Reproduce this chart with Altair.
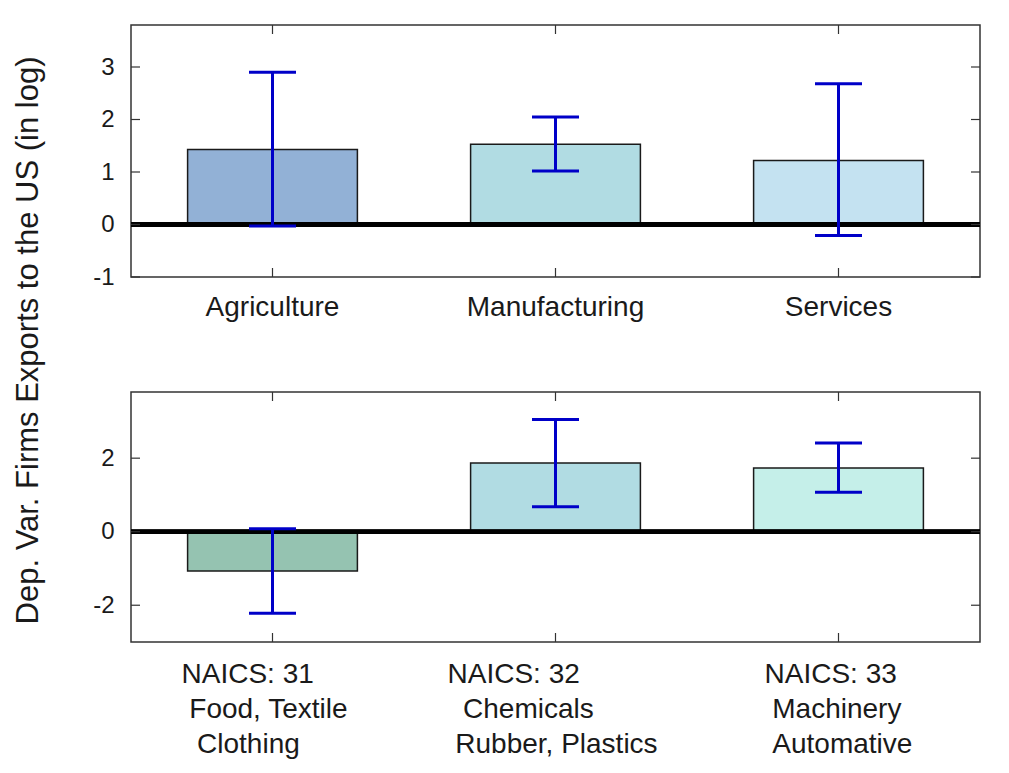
import altair as alt
import pandas as pd

# ---- data ----
top_cats = ["Agriculture", "Manufacturing", "Services"]
top_vals = [1.43, 1.53, 1.22]
top_lo = [-0.03, 1.02, -0.21]
top_hi = [2.90, 2.05, 2.68]
top_colors = ["#92b1d6", "#b1dce3", "#c4e2f1"]
top_ticks = [-1, 0, 1, 2, 3]
top_domain = [-1, 3.8]

ZW = "\u200b"
NB = "\u00a0"
bot_cats = [
    "NAICS: 31|" + ZW + NB + "Food, Textile|" + ZW + NB + NB + "Clothing",
    "NAICS: 32|" + ZW + NB + NB + "Chemicals|" + ZW + NB + "Rubber, Plastics",
    "NAICS: 33|" + ZW + NB + "Machinery|" + ZW + NB + "Automative",
]
bot_vals = [-1.07, 1.87, 1.73]
bot_lo = [-2.22, 0.68, 1.07]
bot_hi = [0.08, 3.05, 2.41]
bot_colors = ["#95c3b1", "#b1dce3", "#c5efe9"]
bot_ticks = [-2, 0, 2]
bot_domain = [-3, 3.8]

W = 849
ERR = "#0000c8"
FONT = "Liberation Sans"
TXT = "#1a1a1a"


def panel(cats, vals, lo, hi, colors, ticks, domain, height, xaxis, yaxis):
    df = pd.DataFrame({"cat": cats, "val": vals, "lo": lo, "hi": hi, "color": colors})
    tdf = pd.DataFrame({"val": ticks})
    xs = alt.Scale(paddingInner=0.4, paddingOuter=0.2)
    ys = alt.Scale(domain=domain, nice=False, zero=False)
    x = alt.X("cat:N", sort=cats, scale=xs, axis=xaxis)
    y = alt.Y("val:Q", scale=ys, axis=yaxis)

    base = alt.Chart(df)
    bars = base.mark_bar(stroke="#1a1a1a", strokeWidth=1.5, opacity=1).encode(
        x=x, y=y, y2=alt.datum(0), color=alt.Color("color:N", scale=None)
    )
    zero = alt.Chart(tdf).mark_rule(color="black", strokeWidth=4.5).encode(y=alt.datum(0))
    err = base.mark_rule(color=ERR, strokeWidth=3, opacity=1).encode(
        x=alt.X("cat:N", sort=cats), y=alt.Y("lo:Q"), y2="hi:Q"
    )
    cap_hi = base.mark_tick(color=ERR, thickness=3, size=47, opacity=1).encode(
        x=alt.X("cat:N", sort=cats), y="hi:Q"
    )
    cap_lo = base.mark_tick(color=ERR, thickness=3, size=47, opacity=1).encode(
        x=alt.X("cat:N", sort=cats), y="lo:Q"
    )
    tick_l = alt.Chart(tdf).mark_rule(color="#333333", strokeWidth=1.2).encode(
        y="val:Q", x=alt.value(0), x2=alt.value(9)
    )
    tick_r = alt.Chart(tdf).mark_rule(color="#333333", strokeWidth=1.2).encode(
        y="val:Q", x=alt.value(W - 9), x2=alt.value(W)
    )
    tick_t = base.mark_rule(color="#333333", strokeWidth=1.2).encode(
        x=alt.X("cat:N", sort=cats), y=alt.value(0), y2=alt.value(9)
    )
    tick_b = base.mark_rule(color="#333333", strokeWidth=1.2).encode(
        x=alt.X("cat:N", sort=cats), y=alt.value(height - 9), y2=alt.value(height)
    )
    return alt.layer(bars, zero, err, cap_hi, cap_lo, tick_l, tick_r, tick_t, tick_b).properties(
        width=W, height=height
    )


top_x = alt.Axis(
    title=None, labelAngle=0, ticks=False, domain=False, labelFontSize=28,
    labelPadding=16, labelColor=TXT, labelFont=FONT, labelLimit=0,
)
top_y = alt.Axis(
    values=top_ticks, ticks=False, domain=False, grid=False, labelFontSize=24,
    labelPadding=17, labelColor=TXT, labelFont=FONT,
    labelExpr="'' + datum.value",
    title="Dep. Var. Firms Exports to the US (in log)", titleFontSize=31,
    titleFontWeight="normal", titleFont=FONT, titleColor=TXT,
    titleAngle=270, titleX=-94, titleY=315, titleAlign="center", titleBaseline="alphabetic",
)
bot_x = alt.Axis(
    title=None, labelAngle=0, ticks=False, domain=False, labelFontSize=28,
    labelPadding=18, labelColor=TXT, labelFont=FONT, labelAlign="left",
    labelBaseline="top", labelLineHeight=35, labelLimit=0,
    labelExpr="split(datum.label, '|')",
    labelOffset={
        "condition": [
            {"test": "indexof(datum.value, 'NAICS: 31') == 0", "value": -91},
            {"test": "indexof(datum.value, 'NAICS: 32') == 0", "value": -108},
        ],
        "value": -74,
    },
)
bot_y = alt.Axis(
    values=bot_ticks, ticks=False, domain=False, grid=False, labelFontSize=24,
    labelPadding=17, labelColor=TXT, labelFont=FONT, title=None,
    labelExpr="'' + datum.value",
)

top = panel(top_cats, top_vals, top_lo, top_hi, top_colors, top_ticks, top_domain, 252, top_x, top_y)
bot = panel(bot_cats, bot_vals, bot_lo, bot_hi, bot_colors, bot_ticks, bot_domain, 250, bot_x, bot_y)

chart = (
    alt.vconcat(top, bot, spacing=115, bounds="flush")
    .properties(padding={"left": 3, "top": 15, "right": 5, "bottom": 5})
    .configure(font=FONT)
    .configure_view(stroke="#333333", strokeWidth=1.5)
)

chart.save("out.html", embed_options={"renderer": "svg", "actions": False})
